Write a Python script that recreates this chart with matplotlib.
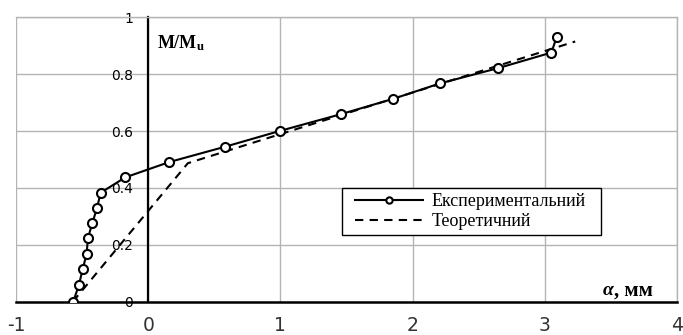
import numpy as np
import matplotlib
matplotlib.use("Agg")
import matplotlib.pyplot as plt
from matplotlib.patches import Rectangle

plt.rcParams['mathtext.fontset'] = 'custom'
plt.rcParams['mathtext.rm'] = 'Liberation Serif'
plt.rcParams['mathtext.bf'] = 'Liberation Serif:bold'

exp_x = [-0.567, -0.524, -0.496, -0.466, -0.456, -0.423, -0.388, -0.36,
         -0.174, 0.159, 0.582, 1.0, 1.455, 1.851, 2.21, 2.645, 3.05, 3.09]
exp_y = [0.0, 0.059, 0.114, 0.167, 0.223, 0.276, 0.328, 0.383,
         0.437, 0.491, 0.545, 0.601, 0.659, 0.713, 0.768, 0.821, 0.876, 0.931]

# theoretical curve
th_x = [-0.57, 0.3, 3.23]
th_y = [0.0, 0.487, 0.915]

x_ticks = [-1, 0, 1, 2, 3, 4]
x_labels = ["-1", "0", "1", "2", "3", "4"]
y_ticks = [0, 0.2, 0.4, 0.6, 0.8, 1.0]
y_labels = ["0", "0.2", "0.4", "0.6", "0.8", "1"]

fig = plt.figure(figsize=(6.83, 3.35), dpi=100)
ax = fig.add_axes([16 / 683, 33.3 / 335, 661 / 683, 284.4 / 335])

ax.plot(th_x, th_y, color='black', lw=1.5, linestyle=(0, (4, 3)), label='Теоретичний', zorder=3)
ax.plot(exp_x, exp_y, color='black', lw=1.5, marker='o', ms=6.5, mfc='white', mec='black',
        mew=1.5, label='Експериментальний', zorder=4)

ax.set_xlim(-1, 4)
ax.set_ylim(0, 1)
ax.set_xticks(x_ticks)
ax.set_xticklabels(x_labels, fontname='DejaVu Sans', fontsize=13.5, color='#333333')
ax.set_yticks(y_ticks)
ax.set_yticklabels(y_labels, fontname='DejaVu Sans', fontsize=12.5, color='#555555')
ax.tick_params(axis='x', length=0, pad=10)
ax.tick_params(axis='y', length=0, pad=11)
ax.grid(True, color='#b4b4b4', lw=1)
ax.set_axisbelow(True)

ax.spines['left'].set_position(('data', 0))
ax.spines['left'].set_linewidth(1.6)
ax.spines['bottom'].set_linewidth(1.8)
for s in ['top', 'right']:
    ax.spines[s].set_color('#b4b4b4')
    ax.spines[s].set_linewidth(1)

ax.text(0.067, 0.91, r'$\mathbf{M/M_u}$', fontsize=13, va='center', ha='left')
ax.text(3.44, 0.04, 'α', fontname='Liberation Serif', style='italic', weight='bold',
        fontsize=14, va='center', ha='left')
ax.text(3.52, 0.04, ', мм', fontname='Liberation Serif', weight='bold',
        fontsize=15, va='center', ha='left')

# legend box (drawn separately, the legend frame has uneven padding)
ax.add_patch(Rectangle((0.4927, 0.2345), 0.3918, 0.1642, transform=ax.transAxes,
                       facecolor='white', edgecolor='black', lw=1, zorder=5))
h, l = ax.get_legend_handles_labels()
leg = ax.legend(h[::-1], l[::-1], loc='center left', bbox_to_anchor=(0.5129, 0.3165),
                borderaxespad=0, borderpad=0, frameon=False,
                prop={'family': 'Liberation Serif', 'size': 13},
                handlelength=3.77, handletextpad=0.48, labelspacing=0.2, markerscale=0.7)
leg.set_zorder(6)

fig.savefig('out.png', dpi=100)
